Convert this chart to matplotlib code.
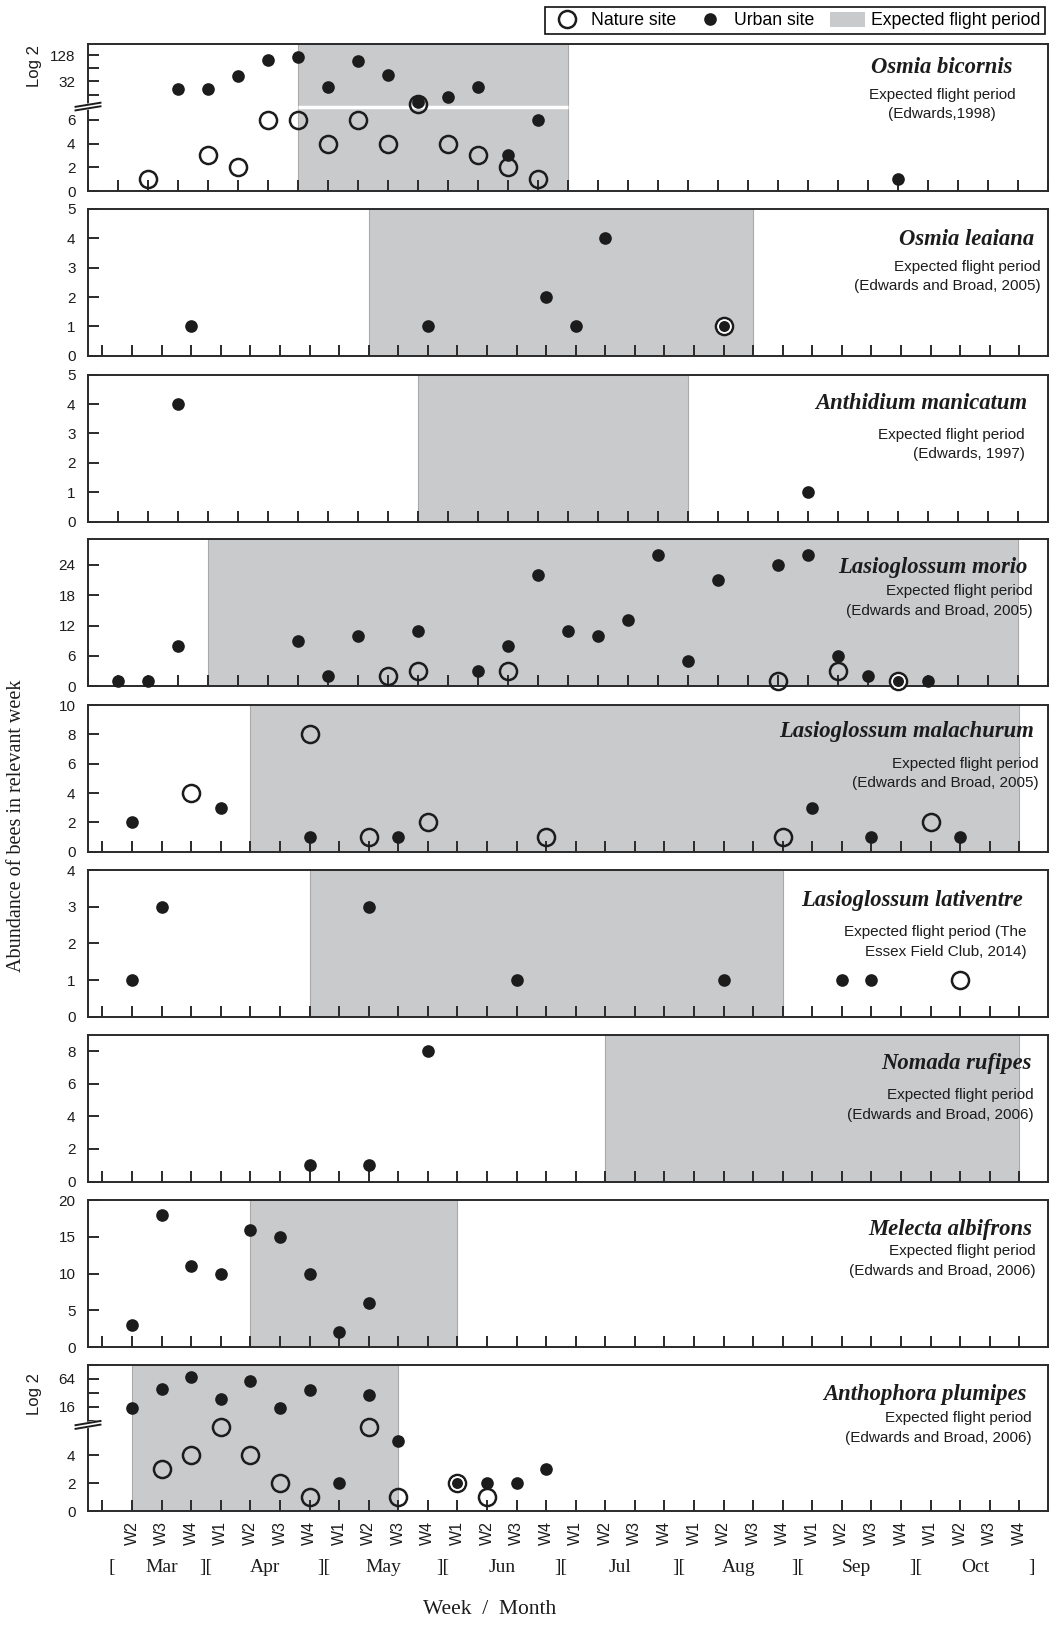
import numpy as np
import matplotlib
matplotlib.use("Agg")
import matplotlib.pyplot as plt
from matplotlib.lines import Line2D
from matplotlib.patches import Patch

W, H, DPI = 1051, 1626, 100
SANS = ["Liberation Sans", "DejaVu Sans"]
SERIF = ["Liberation Serif", "DejaVu Serif"]
plt.rcParams["font.family"] = SANS

INK = "#1c1c1c"
SHADE = "#c9cacc"

# week index: 0 = Mar W1 (no label), 1 = Mar W2 ... 31 = Oct W4
WEEK_LABELS = ["W2", "W3", "W4"] + ["W1", "W2", "W3", "W4"] * 7
MONTHS = ["Mar", "Apr", "May", "Jun", "Jul", "Aug", "Sep", "Oct"]
MONTH_POS = [2, 5.5, 9.5, 13.5, 17.5, 21.5, 25.5, 29.5]
BRACKETS = ["["] + ["]["] * 7 + ["]"]
BRACKET_POS = [0.3, 3.5, 7.5, 11.5, 15.5, 19.5, 23.5, 27.5, 31.4]

# --- data ---
ob_nat_wk = [2, 4, 5, 6, 7, 8, 9, 10, 11, 12, 13, 14, 15]
ob_nat_n = [1, 3, 2, 6, 6, 4, 6, 4, 10, 4, 3, 2, 1]
ob_urb_wk = [3, 4, 5, 6, 7, 8, 9, 10, 11, 12, 13, 14, 15, 27]
ob_urb_n = [21, 21, 42, 100, 116, 24, 95, 45, 11, 14, 24, 3, 6, 1]
ob_flight = (7, 16)

ol_nat_wk = [21]
ol_nat_n = [1]
ol_urb_wk = [3, 11, 15, 16, 17, 21]
ol_urb_n = [1, 1, 2, 1, 4, 1]
ol_flight = (9, 22)

am_urb_wk = [3, 24]
am_urb_n = [4, 1]
am_flight = (11, 20)

lmo_nat_wk = [10, 11, 14, 23, 25, 27]
lmo_nat_n = [2, 3, 3, 1, 3, 1]
lmo_urb_wk = [1, 2, 3, 7, 8, 9, 11, 13, 14, 15, 16, 17, 18, 19, 20, 21, 23, 24, 25, 26, 27, 28]
lmo_urb_n = [1, 1, 8, 9, 2, 10, 11, 3, 8, 22, 11, 10, 13, 26, 5, 21, 24, 26, 6, 2, 1, 1]
lmo_flight = (4, 31)

lma_nat_wk = [3, 7, 9, 11, 15, 23, 28]
lma_nat_n = [4, 8, 1, 2, 1, 1, 2]
lma_urb_wk = [1, 4, 7, 10, 24, 26, 29]
lma_urb_n = [2, 3, 1, 1, 3, 1, 1]
lma_flight = (5, 31)

ll_nat_wk = [29]
ll_nat_n = [1]
ll_urb_wk = [1, 2, 9, 14, 21, 25, 26]
ll_urb_n = [1, 3, 3, 1, 1, 1, 1]
ll_flight = (7, 23)

nr_urb_wk = [7, 9, 11]
nr_urb_n = [1, 1, 8]
nr_flight = (17, 31)

ma_urb_wk = [1, 2, 3, 4, 5, 6, 7, 8, 9]
ma_urb_n = [3, 18, 11, 10, 16, 15, 10, 2, 6]
ma_flight = (5, 12)

ap_nat_wk = [2, 3, 4, 5, 6, 7, 9, 10, 12, 13]
ap_nat_n = [3, 4, 6, 4, 2, 1, 6, 1, 2, 1]
ap_urb_wk = [1, 2, 3, 4, 5, 6, 7, 8, 9, 10, 12, 13, 14, 15]
ap_urb_n = [15, 39, 68, 23, 58, 15, 36, 2, 29, 5, 2, 2, 2, 3]
ap_flight = (1, 10)


def ob_y(n):
    # linear up to the break, log2 above it
    n = np.asarray(n, float)
    return np.where(n <= 7, n, 1.1 * np.log2(np.maximum(n, 1)) + 3.7)


def ap_y(n):
    n = np.asarray(n, float)
    return np.where(n <= 6, n, np.log2(np.maximum(n, 1)) + 3.45)


def lin(n):
    return np.asarray(n, float)


# name, refs, group, urban, nature, flight, yfun, ylim, yticks, ylabels, minor, text layout
PANELS = [
    ("Osmia bicornis", ["Expected flight period", "(Edwards,1998)"], "A",
     (ob_urb_wk, ob_urb_n), (ob_nat_wk, ob_nat_n), ob_flight, ob_y, 12.3,
     [0, 2, 4, 6, 32, 128], ["0", "2", "4", "6", "32", "128"], [16, 64],
     ("center", 942, 942, 67.5, 94.5, 114.3)),
    ("Osmia leaiana", ["Expected flight period", "(Edwards and Broad, 2005)"], "B",
     (ol_urb_wk, ol_urb_n), (ol_nat_wk, ol_nat_n), ol_flight, lin, 5,
     [0, 1, 2, 3, 4, 5], None, [], ("right", 1034, 1041, 239.8, 266.5, 286.2)),
    ("Anthidium manicatum", ["Expected flight period", "(Edwards, 1997)"], "A",
     (am_urb_wk, am_urb_n), ([], []), am_flight, lin, 5,
     [0, 1, 2, 3, 4, 5], None, [], ("right", 1027, 1025, 403.5, 434.6, 454.4)),
    ("Lasioglossum morio", ["Expected flight period", "(Edwards and Broad, 2005)"], "A",
     (lmo_urb_wk, lmo_urb_n), (lmo_nat_wk, lmo_nat_n), lmo_flight, lin, 29,
     [0, 6, 12, 18, 24], None, [], ("right", 1028, 1033, 567, 591, 610.5)),
    ("Lasioglossum malachurum", ["Expected flight period", "(Edwards and Broad, 2005)"], "B",
     (lma_urb_wk, lma_urb_n), (lma_nat_wk, lma_nat_n), lma_flight, lin, 10,
     [0, 2, 4, 6, 8, 10], None, [], ("right", 1034, 1039, 731.5, 763.5, 783)),
    ("Lasioglossum lativentre", ["Expected flight period (The", "Essex Field Club, 2014)"], "B",
     (ll_urb_wk, ll_urb_n), (ll_nat_wk, ll_nat_n), ll_flight, lin, 4,
     [0, 1, 2, 3, 4], None, [], ("right", 1023, 1027, 900.5, 931.5, 951.5)),
    ("Nomada rufipes", ["Expected flight period", "(Edwards and Broad, 2006)"], "B",
     (nr_urb_wk, nr_urb_n), ([], []), nr_flight, lin, 9,
     [0, 2, 4, 6, 8], None, [], ("right", 1031.5, 1034, 1063, 1095, 1114.5)),
    ("Melecta albifrons", ["Expected flight period", "(Edwards and Broad, 2006)"], "B",
     (ma_urb_wk, ma_urb_n), ([], []), ma_flight, lin, 20,
     [0, 5, 10, 15, 20], None, [], ("right", 1032, 1036, 1229.8, 1251.5, 1271.2)),
    ("Anthophora plumipes", ["Expected flight period", "(Edwards and Broad, 2006)"], "B",
     (ap_urb_wk, ap_urb_n), (ap_nat_wk, ap_nat_n), ap_flight, ap_y, 10.45,
     [0, 2, 4, 16, 64], ["0", "2", "4", "16", "64"], [8, 32, 128],
     ("right", 1027, 1032, 1394, 1418, 1437.6)),
]

LEFT, RIGHT = 88, 1048
TOPS = [44.5, 209, 374.7, 539.5, 705, 870, 1034.7, 1200.2, 1364.5]
PH = 146.8

fig = plt.figure(figsize=(W / DPI, H / DPI), dpi=DPI)


def break_mark(ax, yb, slant, gap):
    tr = ax.get_yaxis_transform()
    ax.plot([-0.013, 0.013], [yb - slant, yb + slant], transform=tr, color="white",
            lw=4.5, clip_on=False, zorder=6, solid_capstyle="butt")
    for off in (-gap, gap):
        ax.plot([-0.013, 0.013], [yb - slant + off, yb + slant + off], transform=tr,
                color=INK, lw=1.4, clip_on=False, zorder=7)


axes = []
for i, p in enumerate(PANELS):
    (name, refs, group, urb, nat, flight, yfun, ytop, yticks, ylabels, minor, txt) = p
    top = TOPS[i]
    ax = fig.add_axes([LEFT / W, 1 - (top + PH) / H, (RIGHT - LEFT) / W, PH / H])
    axes.append(ax)

    ax.axvspan(flight[0], flight[1], facecolor=SHADE, edgecolor="#a9a9a9", lw=0.8, zorder=0.5)

    if group == "A":
        ax.set_xlim(0, 32)
        ax.set_xticks(range(0, 33))
    else:
        ax.set_xlim(-0.49, 31.97)
        ax.set_xticks(range(0, 32))
    ax.set_ylim(0, ytop)

    ypos = yfun(yticks)
    ax.set_yticks(ypos, ylabels if ylabels else [str(v) for v in yticks])
    if minor:
        ax.set_yticks(yfun(minor), minor=True)

    # nature (open circles) then urban (dots)
    nwk, nn = nat
    if nwk:
        ax.plot(nwk, yfun(nn), ls="none", marker="o", ms=12.3, mfc="none", mec=INK,
                mew=1.8, zorder=3, clip_on=False)
    uwk, un = urb
    both = set(zip(nwk, nn))
    ax.plot(uwk, yfun(un), ls="none", marker="o", ms=9.1, mfc=INK, mec=INK, mew=0,
            zorder=4, clip_on=False)
    same = [(w, n) for w, n in zip(uwk, un) if (w, n) in both]
    if same:
        ax.plot([s[0] for s in same], yfun([s[1] for s in same]), ls="none", marker="o",
                ms=9.1, mfc=INK, mec="white", mew=1.2, zorder=5, clip_on=False)

    for s in ax.spines.values():
        s.set_linewidth(1.4)
        s.set_color("#2a2a2a")
    ax.tick_params(axis="both", which="both", direction="in", length=8, width=1.4,
                   color="#2a2a2a", labelsize=11, labelcolor=INK)
    ax.tick_params(axis="y", pad=9)
    ax.tick_params(axis="x", labelbottom=False)

    align, tx, sx, ty, l2y, l3y = txt
    fig.text(tx / W, 1 - ty / H, name, ha=align if align == "right" else "center",
             va="center", family=SERIF, style="italic", weight="bold", fontsize=16.3, color=INK)
    for line, ly in zip(refs, (l2y, l3y)):
        fig.text(sx / W, 1 - ly / H, line, ha=align if align == "right" else "center",
                 va="center", fontsize=11, color=INK)

# broken axes on the two log panels
axes[0].hlines(7.1, ob_flight[0], ob_flight[1], colors="white", lw=2.5, zorder=0.6)
break_mark(axes[0], 7.1, 0.17, 0.15)
break_mark(axes[8], 6.15, 0.15, 0.13)
fig.text(34 / W, 1 - 66 / H, "Log 2", rotation=90, ha="center", va="center", fontsize=12, color=INK)
fig.text(34 / W, 1 - 1394 / H, "Log 2", rotation=90, ha="center", va="center", fontsize=12, color=INK)

# bottom axis labels
ax = axes[-1]
ax.set_xticks(range(0, 32), [""] + WEEK_LABELS, rotation=90)
ax.tick_params(axis="x", labelbottom=True, pad=7, labelsize=11.5)
xtr = ax.get_xaxis_transform()
for m, xm in zip(MONTHS, MONTH_POS):
    ax.text(xm, -0.38, m, transform=xtr, ha="center", va="center", family=SERIF,
            fontsize=14, color=INK)
for b, xb in zip(BRACKETS, BRACKET_POS):
    ax.text(xb, -0.38, b, transform=xtr, ha="center", va="center", family=SERIF,
            fontsize=14, color=INK)

fig.text(490 / W, 1 - 1609 / H, "Week  /  Month", ha="center", va="center", family=SERIF,
         fontsize=15.5, color=INK)
fig.text(17 / W, 1 - 826 / H, "Abundance of bees in relevant week", rotation=90,
         ha="center", va="center", family=SERIF, fontsize=14.5, color=INK)

handles = [
    Line2D([], [], ls="none", marker="o", ms=12.3, mfc="none", mec=INK, mew=1.8),
    Line2D([], [], ls="none", marker="o", ms=9.1, mfc=INK, mec=INK, mew=0),
    Patch(facecolor=SHADE, edgecolor="none"),
]
leg = fig.legend(handles, ["Nature site", "Urban site", "Expected flight period"],
                 loc="upper right", bbox_to_anchor=(1045 / W, 1 - 7.3 / H), ncol=3,
                 frameon=True, fancybox=False, edgecolor="#111111", framealpha=1,
                 prop={"family": SANS, "size": 12.7}, handlelength=2.0, handleheight=0.95,
                 handletextpad=0.35, columnspacing=0.9, borderpad=0.25, borderaxespad=0)
leg.get_frame().set_linewidth(1.2)

fig.savefig("out.png", dpi=DPI)
